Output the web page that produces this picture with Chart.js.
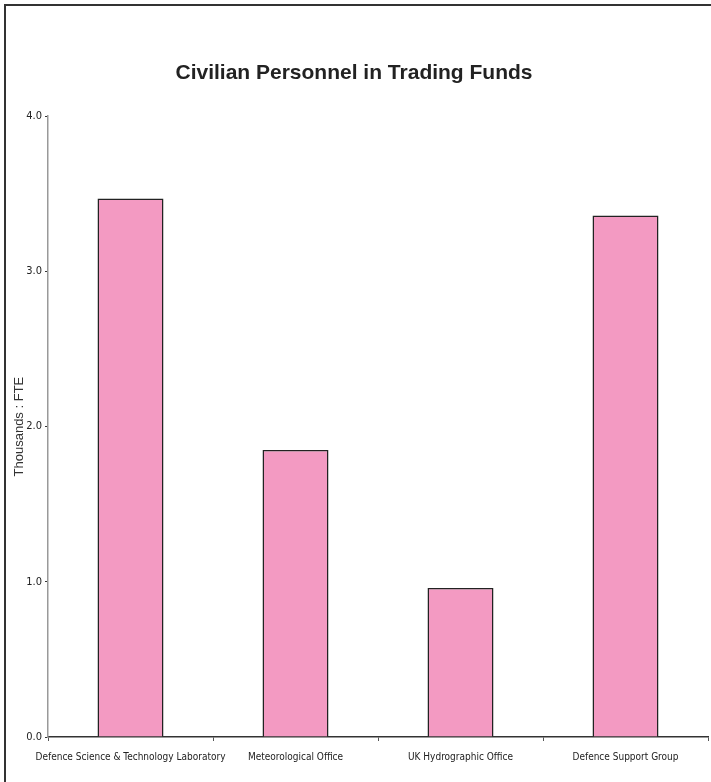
<!DOCTYPE html>
<html>
<head>
<meta charset="utf-8">
<script src="https://cdn.jsdelivr.net/npm/chart.js@4"></script>
<style>
  html, body { margin: 0; padding: 0; background: #fff; }
  #wrap { width: 711px; height: 782px; position: relative; }
</style>
</head>
<body>
<div id="wrap"><canvas id="personnelChart" width="711" height="782"></canvas></div>
<script>
// data
const categories = ["Defence Science & Technology Laboratory", "Meteorological Office", "UK Hydrographic Office", "Defence Support Group"];
const thousandsFte = [3.47, 1.85, 0.96, 3.36];
const yTicks = [0, 1, 2, 3, 4];

// draws the frame lines at the top and left of the picture
const framePlugin = {
  id: "frame",
  beforeDraw: function (chart) {
    const c = chart.ctx;
    c.save();
    c.fillStyle = "#fff";
    c.fillRect(0, 0, chart.width, chart.height);
    c.strokeStyle = "#333";
    c.lineWidth = 2;
    c.beginPath();
    c.moveTo(5, chart.height);
    c.lineTo(5, 5);
    c.lineTo(chart.width, 5);
    c.stroke();
    c.restore();
  }
};

const narrowFont = "DejaVu Sans Condensed, Liberation Sans, sans-serif";

const ctx = document.getElementById("personnelChart").getContext("2d");
const personnelChart = new Chart(ctx, {
  type: "bar",
  data: {
    labels: categories,
    datasets: [
      {
        label: "Thousands : FTE",
        data: thousandsFte,
        backgroundColor: "#F39AC2",
        borderColor: "#222",
        borderWidth: 1.5,
        barPercentage: 0.4,
        categoryPercentage: 1.0,
      },
    ],
  },
  options: {
    responsive: false,
    animation: false,
    layout: { padding: { left: 0, right: 3, top: 0, bottom: 0 } },
    plugins: {
      legend: { display: false },
      tooltip: { enabled: false },
      title: {
        display: true,
        text: "Civilian Personnel in Trading Funds",
        color: "#222",
        font: { family: "Liberation Sans, Arial, sans-serif", size: 21, weight: "bold" },
        padding: { top: 61, bottom: 30 },
      },
    },
    scales: {
      x: {
        grid: {
          display: true,
          drawOnChartArea: false,
          drawTicks: true,
          tickLength: 4,
          color: "#555",
        },
        border: { display: true, color: "#333", width: 1.5 },
        ticks: {
          color: "#222",
          padding: 10,
          maxRotation: 0,
          autoSkip: false,
          font: { family: narrowFont, size: 10 },
        },
        afterFit: function (scale) { scale.height = 45; },
      },
      y: {
        min: 0,
        max: 4,
        afterBuildTicks: function (scale) {
          scale.ticks = yTicks.map(function (v) { return { value: v }; });
        },
        grid: {
          display: true,
          drawOnChartArea: false,
          drawTicks: true,
          tickLength: 3,
          color: "#333",
        },
        border: { display: true, color: "#999", width: 1.5 },
        ticks: {
          color: "#222",
          padding: 3,
          callback: function (v) { return Number(v).toFixed(1); },
          font: { family: narrowFont, size: 11 },
        },
        title: {
          display: true,
          text: "Thousands : FTE",
          color: "#333",
          padding: { top: 12, bottom: 0 },
          font: { family: "Liberation Sans, Arial, sans-serif", size: 13 },
        },
        afterFit: function (scale) { scale.width = 48; },
      },
    },
  },
  plugins: [framePlugin],
});
</script>
</body>
</html>
